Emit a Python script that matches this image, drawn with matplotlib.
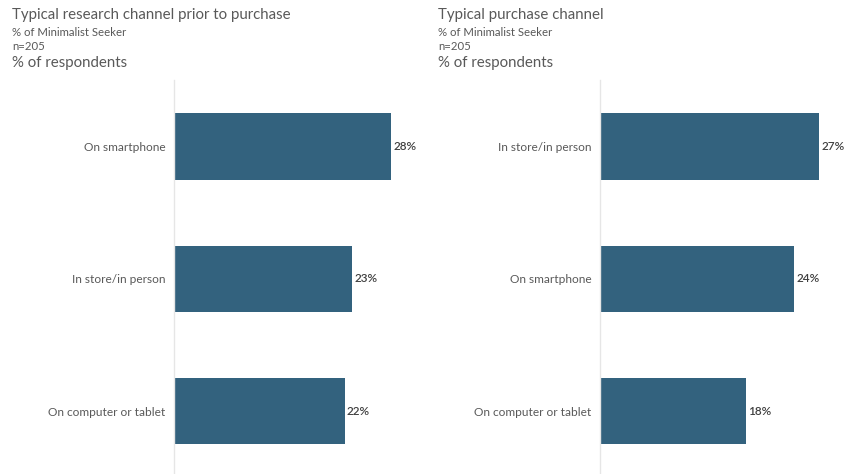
import matplotlib.pyplot as plt
import numpy as np

plt.rcParams['font.family'] = ['Lato', 'DejaVu Sans']

# Research channel
research_labels = ['On smartphone', 'In store/in person', 'On computer or tablet']
research_values = [28, 23, 22]

# Purchase channel
purchase_labels = ['In store/in person', 'On smartphone', 'On computer or tablet']
purchase_values = [27, 24, 18]

titles = ['Typical research channel prior to purchase', 'Typical purchase channel']
subtitle = '% of Minimalist Seeker'
sample = 'n=205'
unit = '% of respondents'

BAR = '#33627e'
GREY = '#595959'
AXIS = '#e6e6e6'


def draw_panel(ax, labels, values, xmax):
    y = np.arange(len(values))
    ax.barh(y, values, height=0.5, color=BAR)
    for yi, v in zip(y, values):
        ax.text(v + 0.3, yi, f'{v}%', va='center', ha='left',
                fontsize=8.5, color='#404040', fontweight='semibold')
    ax.set_yticks(y)
    ax.set_yticklabels(labels, fontsize=8.6, color=GREY)
    ax.tick_params(axis='y', length=0, pad=6)
    ax.set_xticks([])
    ax.set_xlim(0, xmax)
    ax.set_ylim(2.475, -0.502)
    for s in ['top', 'right', 'bottom']:
        ax.spines[s].set_visible(False)
    ax.spines['left'].set_color(AXIS)
    ax.spines['left'].set_linewidth(1.0)


fig = plt.figure(figsize=(8.59, 4.74), dpi=100)
W, H = 859, 474

ax1 = fig.add_axes([174 / W, 0, 232.5 / W, 394 / H])
draw_panel(ax1, research_labels, research_values, 30)

ax2 = fig.add_axes([600 / W, 0, 243 / W, 394 / H])
draw_panel(ax2, purchase_labels, purchase_values, 30)

for x0, t in zip([12, 438], titles):
    fig.text(x0 / W, 1 - 15 / H, t, fontsize=10.8, color=GREY, va='center')
    fig.text(x0 / W, 1 - 32 / H, subtitle, fontsize=8.2, color=GREY, va='center')
    fig.text(x0 / W, 1 - 46 / H, sample, fontsize=8.2, color=GREY, va='center')
    fig.text(x0 / W, 1 - 63 / H, unit, fontsize=10.8, color=GREY, va='center')

fig.savefig('out.png', dpi=100)
